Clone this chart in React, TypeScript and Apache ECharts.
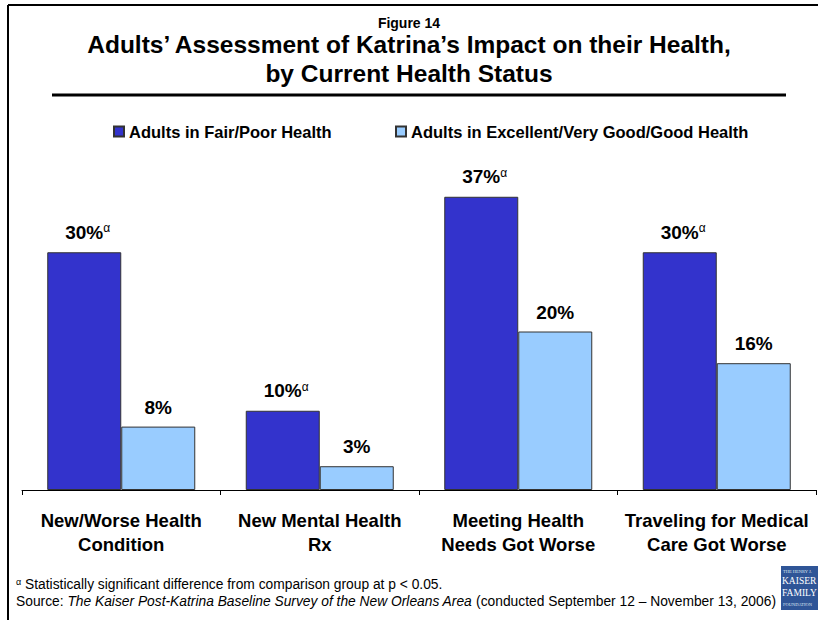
import React, { useEffect, useRef } from "react";
import * as echarts from "echarts";

const categories = [
  "New/Worse Health\nCondition",
  "New Mental Health\nRx",
  "Meeting Health\nNeeds Got Worse",
  "Traveling for Medical\nCare Got Worse",
];
const fairPoor = [30, 10, 37, 30];
const excellentGood = [8, 3, 20, 16];
const significant = [true, true, true, true];
const seriesNames = ["Adults in Fair/Poor Health", "Adults in Excellent/Very Good/Good Health"];

const FONT = "'Liberation Sans', Arial, Helvetica, sans-serif";

export default function App() {
  const ref = useRef<HTMLDivElement>(null);
  useEffect(() => {
    if (!ref.current) return;
    const chart = echarts.init(ref.current, undefined, { renderer: "svg" });
    const labelRich = {
      v: { fontSize: 19, fontWeight: "bold", color: "#000", fontFamily: FONT },
      a: { fontSize: 12, color: "#000", fontFamily: FONT, padding: [0, 0, 8, 0] },
      p: { fontSize: 12, color: "rgba(0,0,0,0)", fontFamily: FONT, padding: [0, 0, 8, 0] },
    };
    const legendText = { fontSize: 16.5, fontWeight: "bold", color: "#000", fontFamily: FONT };
    chart.setOption({
      animation: false,
      backgroundColor: "#fff",
      textStyle: { fontFamily: FONT },
      title: [
        {
          text: "Figure 14",
          left: "center",
          top: 16,
          padding: 0,
          textStyle: { fontSize: 14, lineHeight: 14, fontWeight: "bold", color: "#000", fontFamily: FONT },
        },
        {
          text: "Adults’ Assessment of Katrina’s Impact on their Health,\nby Current Health Status",
          left: "center",
          top: 30,
          padding: 0,
          textStyle: { fontSize: 24.5, lineHeight: 29, fontWeight: "bold", color: "#000", fontFamily: FONT },
        },
      ],
      legend: [
        {
          data: [seriesNames[0]],
          left: 113,
          top: 123,
          padding: 0,
          icon: "rect",
          itemWidth: 10,
          itemHeight: 10,
          textStyle: legendText,
        },
        {
          data: [seriesNames[1]],
          left: 395,
          top: 123,
          padding: 0,
          icon: "rect",
          itemWidth: 10,
          itemHeight: 10,
          textStyle: legendText,
        },
      ],
      grid: { left: 22, right: 2, top: 173, bottom: 130, containLabel: false },
      xAxis: {
        type: "category",
        data: categories,
        axisLine: { show: true, lineStyle: { color: "#000", width: 1 } },
        axisTick: { show: true, length: 5, lineStyle: { color: "#000" } },
        axisLabel: {
          interval: 0,
          margin: 18,
          fontSize: 18.5,
          lineHeight: 24,
          fontWeight: "bold",
          color: "#000",
          fontFamily: FONT,
        },
      },
      yAxis: { type: "value", min: 0, max: 40, show: false, splitLine: { show: false } },
      series: [
        {
          name: seriesNames[0],
          type: "bar",
          data: fairPoor,
          barWidth: 74,
          barGap: "0%",
          itemStyle: { color: "#3333CC", borderColor: "#333", borderWidth: 1 },
          label: {
            show: true,
            position: "top",
            distance: 10,
            formatter: (p: any) =>
              significant[p.dataIndex] ? `{p|α}{v|${p.value}%}{a|α}` : `{v|${p.value}%}`,
            rich: labelRich,
          },
        },
        {
          name: seriesNames[1],
          type: "bar",
          data: excellentGood,
          barWidth: 74,
          barGap: "0%",
          itemStyle: { color: "#99CCFF", borderColor: "#333", borderWidth: 1 },
          label: {
            show: true,
            position: "top",
            distance: 10,
            formatter: (p: any) => `{v|${p.value}%}`,
            rich: labelRich,
          },
        },
      ],
      graphic: [
        { type: "line", shape: { x1: 8, y1: 5, x2: 818, y2: 5 }, style: { stroke: "#000", lineWidth: 2 } },
        { type: "line", shape: { x1: 8, y1: 5, x2: 8, y2: 620 }, style: { stroke: "#000", lineWidth: 2 } },
        { type: "line", shape: { x1: 52, y1: 95, x2: 786, y2: 95 }, style: { stroke: "#000", lineWidth: 3 } },
        {
          type: "text",
          left: 16,
          top: 577,
          style: {
            text: "{a|α} Statistically significant difference from comparison group at p < 0.05.",
            fontSize: 13.8,
            fill: "#000",
            fontFamily: FONT,
            rich: {
              a: { fontSize: 9, padding: [0, 0, 6, 0], fontFamily: FONT },
            },
          },
        },
        {
          type: "text",
          left: 16,
          top: 594,
          style: {
            text: "Source: {i|The Kaiser Post-Katrina Baseline Survey of the New Orleans Area} (conducted September 12 – November 13, 2006)",
            fontSize: 13.8,
            fill: "#000",
            fontFamily: FONT,
            rich: { i: { fontStyle: "italic", fontSize: 13.8, fontFamily: FONT } },
          },
        },
        {
          type: "group",
          left: 781,
          top: 566,
          children: [
            { type: "rect", shape: { x: 0, y: 0, width: 37, height: 44 }, style: { fill: "#2F5597" } },
            { type: "text", x: 2, y: 3, style: { text: "THE HENRY J.", fontSize: 4.5, fill: "#dfe6f3", fontFamily: "'Liberation Serif', serif" } },
            { type: "text", x: 1, y: 10, style: { text: "KAISER", fontSize: 9.5, fill: "#fff", fontFamily: "'Liberation Serif', serif" } },
            { type: "text", x: 1, y: 22, style: { text: "FAMILY", fontSize: 9.5, fill: "#fff", fontFamily: "'Liberation Serif', serif" } },
            { type: "text", x: 2, y: 36, style: { text: "FOUNDATION", fontSize: 4.5, fill: "#dfe6f3", fontFamily: "'Liberation Serif', serif" } },
          ],
        },
      ],
    });
    return () => chart.dispose();
  }, []);
  return <div ref={ref} style={{ position: "absolute", left: 0, top: 0, width: 818, height: 620 }} />;
}
